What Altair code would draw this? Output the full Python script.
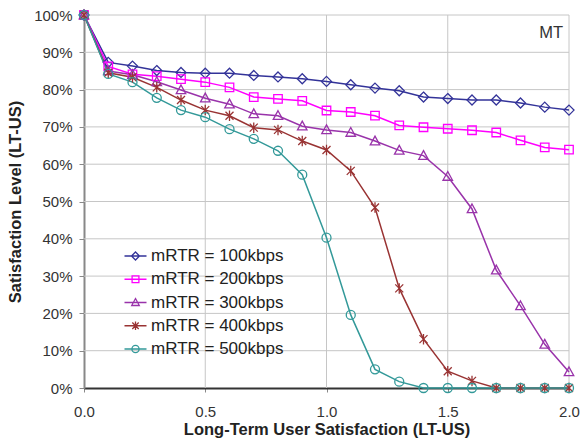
import json

import altair as alt
import pandas as pd

# Long-term user satisfaction (x) and satisfaction level in percent per mRTR
lt_us = [0.0, 0.1, 0.2, 0.3, 0.4, 0.5, 0.6, 0.7, 0.8, 0.9, 1.0,
         1.1, 1.2, 1.3, 1.4, 1.5, 1.6, 1.7, 1.8, 1.9, 2.0]

sat_100 = [100, 87.3, 86.3, 85.1, 84.6, 84.4, 84.4, 83.8, 83.4, 82.9, 82.2,
           81.3, 80.4, 79.7, 78.0, 77.6, 77.2, 77.2, 76.4, 75.3, 74.5]
sat_200 = [100, 86.2, 84.1, 83.6, 82.8, 82.0, 80.6, 78.0, 77.5, 77.0, 74.4,
           74.0, 73.0, 70.4, 69.9, 69.5, 69.1, 68.5, 66.4, 64.5, 63.9]
sat_300 = [100, 85.0, 84.0, 82.1, 79.9, 77.7, 76.1, 73.5, 73.0, 70.2, 69.2,
           68.5, 66.2, 63.7, 62.3, 56.7, 48.0, 31.6, 22.0, 11.7, 4.3]
sat_400 = [100, 84.5, 83.3, 80.6, 77.2, 74.5, 73.0, 69.8, 69.2, 66.2, 63.8,
           58.2, 48.4, 26.7, 13.1, 4.5, 1.9, 0, 0, 0, 0]
sat_500 = [100, 84.2, 82.0, 77.8, 74.5, 72.6, 69.4, 66.8, 63.6, 57.2, 40.3,
           19.6, 5.0, 1.7, 0, 0, 0, 0, 0, 0, 0]

series_names = ["mRTR = 100kbps", "mRTR = 200kbps", "mRTR = 300kbps",
                "mRTR = 400kbps", "mRTR = 500kbps"]
series_colors = ["#333399", "#FF00FF", "#9933AA", "#993333", "#339999"]
series_markers = ["diamond", "square", "triangle", "asterisk", "circle"]

# Open marker outlines (unit coordinates), in the order of series_markers
marker_paths = [
    "M0,-1L1,0L0,1L-1,0Z",
    "M-0.85,-0.85L0.85,-0.85L0.85,0.85L-0.85,0.85Z",
    "M0,-1L0.95,0.75L-0.95,0.75Z",
    "M-0.8,-0.8L0.8,0.8M-0.8,0.8L0.8,-0.8M0,-1.05L0,1.05",
    "M0.9,0A0.9,0.9,0,1,1,-0.9,0A0.9,0.9,0,1,1,0.9,0Z",
]

axis_ticks = [0.0, 0.5, 1.0, 1.5, 2.0]
level_ticks = [0, 10, 20, 30, 40, 50, 60, 70, 80, 90, 100]

panel_label = ["MT"]
panel_label_x = [1.926]
panel_label_y = [95.3]

rows = []
for name, marker, values in zip(series_names, series_markers,
                                [sat_100, sat_200, sat_300, sat_400, sat_500]):
    for x, v in zip(lt_us, values):
        rows.append({"lt_us": x, "level": v, "series": name, "marker": marker})
df = pd.DataFrame(rows)

label_df = pd.DataFrame({"lt_us": panel_label_x, "level": panel_label_y, "text": panel_label})
# light grid: every tick except the ones lying on the axis lines
grid_x_df = pd.DataFrame({"lt_us": axis_ticks[1:]})
grid_y_df = pd.DataFrame({"level": level_ticks[1:]})

FONT = "Liberation Sans"

x_axis = alt.Axis(values=axis_ticks, format=".1f", title="Long-Term User Satisfaction (LT-US)")
y_axis = alt.Axis(values=level_ticks, labelExpr="datum.value + '%'", title="Satisfaction Level (LT-US)")
x_enc = alt.X("lt_us:Q", scale=alt.Scale(domain=[0, 2], nice=False), axis=x_axis)
y_enc = alt.Y("level:Q", scale=alt.Scale(domain=[0, 100], nice=False), axis=y_axis)

# Legend symbols: a short line segment through each series' marker outline
legend_paths = ["M-2.75,0L2.75,0" + p for p in marker_paths]
legend_shape_expr = "{}[indexof({}, datum.value)]".format(
    json.dumps(legend_paths).replace('"', "'"), json.dumps(series_names).replace('"', "'")
)

legend = alt.Legend(
    title=None, orient="none", legendX=43, legendY=232.5, padding=0,
    labelFont=FONT, labelFontSize=17, labelColor="#222222", labelOffset=7,
    rowPadding=5.25, symbolSize=64, symbolStrokeWidth=1.3, symbolFillColor="transparent",
    symbolOpacity=1, symbolType={"expr": legend_shape_expr},
)

color_enc = alt.Color("series:N", scale=alt.Scale(domain=series_names, range=series_colors), legend=legend)

grid_style = dict(color="#c6c6c6", strokeWidth=1, opacity=1)
grid_v = alt.Chart(grid_x_df).mark_rule(**grid_style).encode(x=x_enc)
grid_h = alt.Chart(grid_y_df).mark_rule(**grid_style).encode(y=y_enc)

lines = alt.Chart(df).mark_line(strokeWidth=1.5).encode(x=x_enc, y=y_enc, color=color_enc)

points = alt.Chart(df).mark_point(filled=False, size=100, strokeWidth=1.3, opacity=1).encode(
    x=x_enc, y=y_enc, color=color_enc,
    shape=alt.Shape("marker:N", scale=alt.Scale(domain=series_markers, range=marker_paths), legend=None),
)

panel_text = alt.Chart(label_df).mark_text(
    font=FONT, fontSize=16.5, color="#333333", align="center", baseline="middle"
).encode(x=x_enc, y=y_enc, text="text:N")

chart = (
    alt.layer(grid_v, grid_h, lines, points, panel_text)
    .properties(
        width=485, height=373, background="white",
        padding={"left": 84, "top": 15, "right": 13, "bottom": 57},
        autosize=alt.AutoSizeParams(type="none"),
    )
    .configure_view(strokeWidth=0)
    .configure_axis(
        titleFont=FONT, titleFontSize=16.5, titleFontWeight="bold", titleColor="#222222",
        labelFont=FONT, labelFontSize=15, labelColor="#333333",
        labelFlush=False, labelOverlap=False,
        tickColor="#888888", grid=False,
    )
    .configure_axisX(
        titlePadding=2, labelPadding=12, tickSize=4,
        domainColor="#333333", domainWidth=1.8,
    )
    .configure_axisY(
        titlePadding=10, labelPadding=7, tickSize=5,
        domainColor="#888888", domainWidth=2,
    )
)

chart.save("out.html", embed_options={"renderer": "svg", "actions": False})
